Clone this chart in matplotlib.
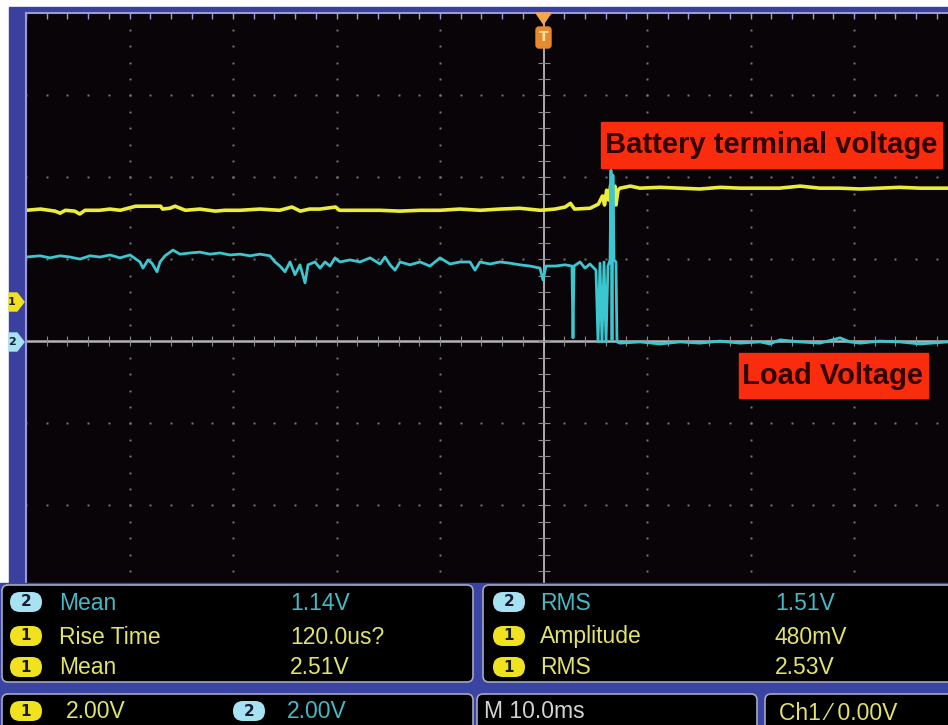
import numpy as np
import matplotlib
matplotlib.use("Agg")
import matplotlib.pyplot as plt
from matplotlib.patches import Rectangle, FancyBboxPatch, Polygon

W, H = 948, 725

# scope settings (M 10.0ms, 2.00V/div on both channels)
ms_per_div = 10.0
v_per_div = 2.0
ch1_pos = 0.48   # ch1 ground marker, divisions above centre
ch2_pos = 0.0

# ch1 (yellow) - battery terminal voltage, time in ms, volts
ch1_t = [-50.0, -48.6, -47.2, -46.7, -46.2, -45.3, -44.8, -44.3, -42.9, -41.9,
         -40.9, -39.4, -37.0, -36.8, -36.1, -35.6, -35.1, -34.6, -33.2, -31.7,
         -30.8, -29.3, -27.4, -25.5, -24.3, -23.9, -23.5, -22.6, -21.6, -20.1,
         -19.7, -17.7, -15.8, -13.9, -11.9, -10.0, -8.1, -6.1, -4.2, -2.3,
         -0.3, 1.1, 2.1, 2.6, 3.0, 4.5, 5.3, 5.7, 5.9, 6.1,
         6.3, 6.5, 6.7, 6.9, 7.0, 7.2, 7.4, 8.4, 9.3, 11.3,
         13.2, 15.1, 17.1, 19.0, 20.9, 22.8, 24.8, 26.7, 28.6, 30.6,
         32.5, 34.4, 36.4, 39.1]
ch1_v = [2.24, 2.27, 2.22, 2.17, 2.24, 2.22, 2.15, 2.24, 2.24, 2.27,
         2.24, 2.34, 2.34, 2.27, 2.29, 2.34, 2.29, 2.24, 2.27, 2.22,
         2.24, 2.24, 2.27, 2.24, 2.32, 2.27, 2.22, 2.27, 2.27, 2.32,
         2.24, 2.24, 2.24, 2.22, 2.24, 2.24, 2.27, 2.24, 2.27, 2.29,
         2.24, 2.27, 2.32, 2.41, 2.27, 2.29, 2.39, 2.59, 2.37, 2.73,
         2.49, 2.88, 2.59, 2.83, 2.37, 2.73, 2.78, 2.83, 2.78, 2.80,
         2.78, 2.76, 2.80, 2.78, 2.78, 2.78, 2.83, 2.78, 2.78, 2.76,
         2.78, 2.80, 2.78, 2.78]

# ch2 (cyan) - load voltage
ch2_t = [-50.0, -48.65, -47.68, -46.71, -45.75, -44.78, -43.82, -42.85, -41.88, -40.92,
         -39.95, -38.99, -38.70, -38.21, -37.83, -37.34, -37.05, -36.57, -35.80, -35.12,
         -34.15, -33.19, -32.22, -31.26, -30.29, -29.32, -28.36, -27.39, -26.43, -25.94,
         -25.46, -24.98, -24.49, -24.01, -23.53, -23.04, -22.75, -22.08, -21.59, -21.11,
         -20.63, -20.14, -19.66, -18.70, -17.73, -16.76, -15.80, -15.31, -14.83, -14.35,
         -13.86, -12.90, -11.93, -10.97, -10.00, -9.03, -8.07, -7.10, -6.62, -6.14,
         -5.17, -4.20, -3.24, -2.27, -1.30, -0.34, -0.05, 0.24, 1.11, 2.08,
         2.75, 2.85, 2.95, 3.53, 4.01, 4.49, 5.07, 5.27, 5.46, 5.65,
         5.85, 6.04, 6.23, 6.43, 6.52, 6.62, 6.71, 6.81, 7.00, 7.10,
         7.39, 9.32, 11.26, 13.19, 15.12, 17.05, 18.99, 20.92, 21.88, 22.85,
         24.78, 26.71, 28.65, 29.61, 30.58, 32.51, 34.44, 36.38, 39.08]
ch2_v = [2.06, 2.09, 2.04, 2.09, 2.06, 2.01, 2.09, 2.06, 2.11, 2.04,
         2.11, 1.94, 1.79, 1.99, 1.91, 1.70, 1.94, 2.09, 2.23, 2.13,
         2.16, 2.18, 2.13, 2.16, 2.11, 2.13, 2.09, 2.13, 2.09, 1.94,
         1.84, 1.70, 1.94, 1.63, 1.87, 1.43, 1.87, 1.94, 1.79, 1.94,
         1.84, 2.04, 1.94, 1.99, 1.94, 2.04, 1.89, 2.06, 1.87, 1.74,
         1.94, 1.87, 1.94, 1.84, 2.04, 1.89, 1.94, 1.94, 1.74, 1.94,
         1.89, 1.94, 1.91, 1.87, 1.84, 1.79, 1.50, 1.84, 1.84, 1.87,
         1.84, 0.09, 1.84, 1.94, 1.79, 1.89, 1.74, -0.01, 1.91, -0.01,
         1.94, -0.01, 1.84, 1.99, 4.18, 0.04, 4.06, 1.99, 1.94, -0.01,
         -0.04, -0.01, -0.06, -0.01, -0.04, 0.01, -0.04, -0.01, -0.06, 0.04,
         -0.01, -0.04, 0.09, -0.01, -0.04, 0.01, -0.01, -0.06, -0.01]

# measurement readouts
meas_ch_l = ["2", "1", "1"]
meas_name_l = ["Mean", "Rise Time", "Mean"]
meas_val_l = ["1.14V", "120.0us?", "2.51V"]
meas_ch_r = ["2", "1", "1"]
meas_name_r = ["RMS", "Amplitude", "RMS"]
meas_val_r = ["1.51V", "480mV", "2.53V"]

BG = "#080407"
BLUE = "#3b3f9e"
PANEL = "#3a44a2"
YEL = "#ecec3a"
CYN = "#3cc6cf"
TXT_Y = "#e2e26c"
TXT_C = "#46b8c6"
BADGE_Y = "#f0e21e"
BADGE_C = "#a6e2f2"
GRID = "#7a7a7a"
LABEL_RED = "#fa2c0e"
FONT = ["Liberation Sans", "DejaVu Sans"]
FS = 16.5

fig = plt.figure(figsize=(W / 100, H / 100), dpi=100, facecolor="white")


def px_axes(x0, y0, x1, y1, **kw):
    return fig.add_axes([x0 / W, 1 - y1 / H, (x1 - x0) / W, (y1 - y0) / H], **kw)


def pixel_frame(a):
    a.set_xlim(0, W)
    a.set_ylim(H, 0)
    a.axis("off")


back = px_axes(0, 0, W, H)
pixel_frame(back)
back.add_patch(Rectangle((9, 7), W - 9, 580, color=BLUE))

# ---- graticule / traces
ax = px_axes(26, 13, W, 583)
ax.set_facecolor(BG)
xmin = -5 * ms_per_div
xmax = xmin + (W - 26) / 103.5 * ms_per_div
ymax = (341.5 - 13) / 82
ymin = (341.5 - 583) / 82
ax.set_xlim(xmin, xmax)
ax.set_ylim(ymin, ymax)
ax.set_xticks([])
ax.set_yticks([])
for s in ["right", "bottom"]:
    ax.spines[s].set_visible(False)
for s in ["left", "top"]:
    ax.spines[s].set_color("#9a9ad8")
    ax.spines[s].set_linewidth(1.5)

minor_t = np.arange(xmin, xmax + 0.01, ms_per_div / 5)
minor_y = np.arange(-15, 21) * 0.2
for k in [-4, -3, -2, -1, 1, 2, 3]:
    ax.plot(np.full(len(minor_y), k * ms_per_div), minor_y, ls="none",
            marker="s", ms=1.4, color=GRID, mew=0)
for j in [-2, -1, 1, 2, 3]:
    ax.plot(minor_t, np.full(len(minor_t), j), ls="none",
            marker="s", ms=1.4, color=GRID, mew=0)
ax.plot(np.full(len(minor_y), xmin), minor_y, ls="none", marker=0,
        ms=4, color="#9a9ad8", mew=1)
ax.plot(minor_t, np.full(len(minor_t), ymax), ls="none", marker=3,
        ms=4, color="#9a9ad8", mew=1)

# centre reference lines
ax.axhline(0, color="#b4b4b4", lw=1.8)
ax.plot(minor_t, np.zeros(len(minor_t)), ls="none", marker="|", ms=7,
        color="#8a8a8a", mew=0.8)
ax.axvline(0, color="#c8c8c8", lw=1.2)
ax.plot(np.zeros(len(minor_y)), minor_y, ls="none", marker="_", ms=9,
        color="#8a8a8a", mew=0.8)

ax.plot(ch1_t, np.array(ch1_v) / v_per_div + ch1_pos, color=YEL, lw=2.6)
ax.plot(ch2_t, np.array(ch2_v) / v_per_div + ch2_pos, color=CYN, lw=2.0)

# ---- overlay items in pixel space
ov = px_axes(0, 0, W, H)
pixel_frame(ov)
ov.patch.set_alpha(0)

# trigger position marker
ov.add_patch(Polygon([(536, 13), (551, 13), (543.5, 24)], color="#f6a848"))
ov.add_patch(FancyBboxPatch((536, 27), 15, 21, boxstyle="round,pad=0,rounding_size=3",
                            color="#e88a2c"))
ov.text(543.5, 37, "T", color="#ffe0a8", fontsize=10, fontweight="bold",
        ha="center", va="center")

# channel ground markers
ov.add_patch(Polygon([(9, 293), (17, 293), (24, 302), (17, 311), (9, 311)], color=BADGE_Y))
ov.text(12, 302, "1", color="#202000", fontsize=8, fontweight="bold", ha="center", va="center")
ov.add_patch(Polygon([(9, 333), (17, 333), (24, 342), (17, 351), (9, 351)], color=BADGE_C))
ov.text(12, 342, "2", color="#102030", fontsize=8, fontweight="bold", ha="center", va="center")

# annotation labels
ov.add_patch(Rectangle((601, 122), 341, 46, color=LABEL_RED))
ov.text(771, 145, "Battery terminal voltage", color="#300000", fontsize=21,
        fontweight="bold", family=FONT, ha="center", va="center")
ov.add_patch(Rectangle((739, 353), 189, 45, color=LABEL_RED))
ov.text(833, 376, "Load Voltage", color="#300000", fontsize=21,
        fontweight="bold", family=FONT, ha="center", va="center")

# ---- bottom readout panel
ov.add_patch(Rectangle((0, 583), W, H - 583, color=PANEL))
box_kw = dict(boxstyle="round,pad=0,rounding_size=6", fc="black", ec="#a8a8c0", lw=1.2)
ov.add_patch(FancyBboxPatch((2, 585), 471, 97, **box_kw))
ov.add_patch(FancyBboxPatch((483, 585), 480, 97, **box_kw))
ov.add_patch(FancyBboxPatch((2, 694), 471, 50, **box_kw))
ov.add_patch(FancyBboxPatch((477, 694), 280, 50, **box_kw))
ov.add_patch(FancyBboxPatch((765, 694), 200, 50, **box_kw))


def badge(x, y, ch):
    fc = BADGE_C if ch == "2" else BADGE_Y
    ov.add_patch(FancyBboxPatch((x, y - 10), 32, 20, boxstyle="round,pad=0,rounding_size=10",
                                fc=fc, ec="none"))
    ov.text(x + 16, y, ch, color="#1a1a30", fontsize=11, fontweight="bold",
            ha="center", va="center")


rows_y = [602, 636, 667]
for ch, name, val, y in zip(meas_ch_l, meas_name_l, meas_val_l, rows_y):
    c = TXT_C if ch == "2" else TXT_Y
    badge(10, y, ch)
    ov.text(59, y + 1, name, color=c, fontsize=FS, family=FONT, va="center")
    ov.text(290, y + 1, val, color=c, fontsize=FS, family=FONT, va="center")
for ch, name, val, y in zip(meas_ch_r, meas_name_r, meas_val_r, rows_y):
    c = TXT_C if ch == "2" else TXT_Y
    badge(493, y, ch)
    ov.text(540, y + 1, name, color=c, fontsize=FS, family=FONT, va="center")
    ov.text(775, y + 1, val, color=c, fontsize=FS, family=FONT, va="center")

badge(10, 711, "1")
ov.text(66, 712, "2.00V", color=TXT_Y, fontsize=FS, family=FONT, va="center")
badge(233, 711, "2")
ov.text(287, 712, "2.00V", color=TXT_C, fontsize=FS, family=FONT, va="center")
ov.text(484, 712, "M 10.0ms", color="#d4d4d4", fontsize=FS, family=FONT, va="center")
ov.text(779, 713, "Ch1 \u2044 0.00V", color=TXT_Y, fontsize=FS, family=FONT, va="center")

fig.savefig("out.png", dpi=100, facecolor="white")
